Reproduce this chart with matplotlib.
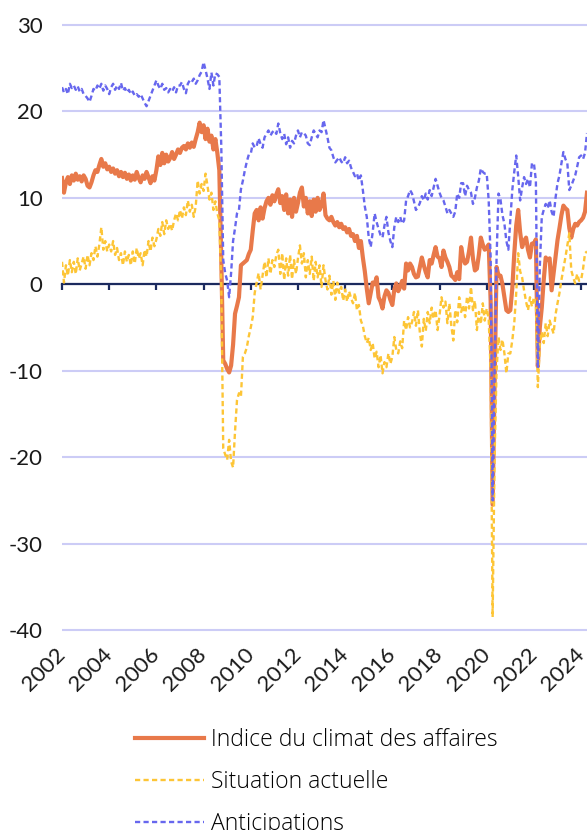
"""Indice du climat des affaires et ses deux composantes, 2002-2024 (mensuel)."""
import matplotlib
matplotlib.use("Agg")
import matplotlib.pyplot as plt  # noqa: E402
from matplotlib.lines import Line2D  # noqa: E402
import numpy as np  # noqa: E402

START_YEAR = 2002          # first observation = January 2002, monthly

ICA = [
    12.3, 10.6, 11.8, 12.4, 11.6, 12.6, 12.0, 12.8, 12.1, 12.5, 11.9, 12.6,   # 2002
    12.2, 11.4, 11.2, 11.8, 12.6, 13.2, 13.0, 13.8, 14.5, 13.6, 14.0, 13.3,   # 2003
    13.6, 13.0, 13.4, 12.8, 13.2, 12.5, 13.0, 12.4, 12.9, 12.2, 12.7, 12.0,   # 2004
    12.6, 12.1, 13.0, 12.3, 11.8, 12.6, 12.2, 13.0, 12.4, 11.7, 12.5, 12.0,   # 2005
    13.2, 14.8, 13.8, 15.2, 14.0, 15.0, 14.2, 14.6, 15.3, 14.5, 15.0, 15.6,   # 2006
    15.2, 15.8, 16.0, 15.6, 16.3, 15.8, 16.4, 15.9, 16.8, 17.6, 18.7, 17.6,   # 2007
    18.4, 16.8, 18.0, 16.5, 17.2, 15.6, 16.8, 15.2, 13.2, 3.0, -8.8, -9.2,    # 2008
    -9.8, -10.2, -9.4, -7.0, -3.4, -2.5, -1.5, 2.2, 2.4, 2.6, 2.8, 3.5,       # 2009
    4.0, 6.2, 8.2, 8.6, 7.4, 8.9, 7.6, 8.8, 9.6, 10.0, 9.2, 10.3,             # 2010
    9.6, 10.4, 11.0, 9.4, 10.2, 8.6, 10.4, 8.2, 9.8, 7.8, 10.0, 8.4,          # 2011
    9.4, 10.6, 11.2, 9.0, 10.0, 8.2, 9.6, 7.9, 9.8, 8.4, 10.0, 8.6,           # 2012
    9.2, 10.5, 8.0, 7.6, 7.4, 7.8, 7.2, 6.8, 7.2, 6.6, 7.0, 6.4,              # 2013
    6.6, 6.0, 6.4, 5.6, 5.8, 5.0, 5.6, 4.2, 5.0, 3.1, 1.5, -0.5,              # 2014
    -2.2, -1.0, 0.2, 0.0, 0.8, -1.5, -2.0, -2.8, -1.4, -0.7, -1.0, -1.8,      # 2015
    -2.4, -0.6, 0.1, -0.8, -0.3, 0.4, -0.5, 2.4, 1.6, 2.4, 2.0, 1.2,          # 2016
    0.8, 0.9, 2.0, 3.1, 2.2, 1.4, 0.8, 2.8, 2.4, 3.4, 4.3, 3.2,               # 2017
    3.0, 2.0, 3.9, 3.1, 2.6, 2.0, 1.0, 0.8, 0.5, 1.4, 0.6, 4.3,               # 2018
    3.0, 2.4, 2.6, 3.8, 5.4, 3.0, 1.6, 1.8, 3.4, 5.4, 4.6, 4.0,               # 2019
    4.2, 4.6, -2.0, -25.5, -12.0, 2.0, 1.0, 1.0, 0.0, -1.5, -3.0, -3.2,       # 2020
    -3.0, -0.5, 3.5, 6.8, 8.6, 6.0, 4.3, 5.0, 5.4, 4.0, 3.1, 4.7,             # 2021
    4.7, 5.2, -9.5, -5.0, -2.7, 0.5, 3.1, 2.8, 3.0, -0.7, 1.2, 3.0,           # 2022
    5.1, 6.5, 8.0, 9.1, 8.8, 8.6, 6.5, 5.4, 6.4, 7.0, 6.8, 7.2,               # 2023
    7.4, 7.7, 8.4, 10.6,                                                     # 2024
]

SITUATION = [
    2.6, 0.2, 2.2, 1.0, 2.8, 1.4, 2.6, 1.2, 3.0, 1.6, 2.4, 3.2,               # 2002
    1.8, 3.4, 2.2, 3.6, 2.8, 4.4, 3.2, 4.6, 6.6, 4.0, 5.0, 3.8,               # 2003
    4.6, 3.8, 5.0, 3.4, 4.2, 2.8, 3.6, 2.2, 3.8, 2.6, 3.4, 2.2,               # 2004
    3.8, 2.4, 4.2, 3.0, 3.6, 2.2, 4.0, 3.2, 5.0, 3.8, 5.4, 4.4,               # 2005
    5.2, 6.4, 5.6, 7.2, 5.8, 7.4, 6.4, 7.0, 6.2, 7.4, 8.2, 7.4,               # 2006
    8.6, 7.6, 8.9, 8.0, 9.7, 8.4, 9.2, 7.8, 9.0, 12.0, 10.5, 11.6,            # 2007
    10.8, 12.8, 11.4, 9.8, 10.6, 8.6, 9.6, 8.2, 7.4, 0.0, -19.0, -19.7,       # 2008
    -20.3, -18.0, -20.5, -21.2, -17.0, -13.4, -12.6, -13.0, -8.4, -8.0, -7.3, -6.0,  # 2009
    -5.0, -3.8, -1.0, 0.2, 1.3, -0.6, 1.0, 2.6, 0.8, 3.0, 1.2, 2.8,           # 2010
    2.0, 3.4, 4.0, 1.2, 3.6, 0.5, 3.0, 1.0, 3.4, 0.6, 2.8, 1.2,               # 2011
    3.0, 4.5, 2.4, 3.6, 0.8, 2.8, 1.2, 3.2, 0.4, 2.6, 0.8, 2.2,               # 2012
    -0.3, 2.2, 0.5, -0.6, 1.0, -1.2, 0.4, -1.8, 0.2, -1.0, -0.3, -1.9,        # 2013
    -0.6, -2.0, -0.8, -1.6, -2.2, -1.0, -3.0, -2.4, -4.2, -4.8, -6.0, -6.8,   # 2014
    -6.2, -7.6, -6.8, -8.6, -7.8, -9.6, -8.2, -10.3, -9.0, -9.6, -8.0, -9.2,  # 2015
    -8.4, -6.1, -7.6, -8.0, -6.6, -7.4, -4.2, -5.3, -3.8, -5.0, -4.4, -3.2,   # 2016
    -4.8, -3.0, -5.6, -7.2, -4.0, -5.4, -3.2, -4.5, -2.7, -4.0, -3.0, -5.3,   # 2017
    -3.6, -1.5, -2.7, -2.0, -4.5, -2.2, -4.8, -6.5, -3.0, -4.4, -1.5, -3.2,   # 2018
    -2.4, -3.8, -1.4, -2.8, -0.3, -3.0, -1.9, -5.3, -3.2, -4.6, -2.2, -4.2,   # 2019
    -2.8, -4.0, -10.0, -38.5, -20.0, -10.0, -6.1, -7.6, -6.4, -8.0, -10.3, -8.0,  # 2020
    -8.0, -6.5, -4.5, -1.0, 3.6, 1.5, 0.8, -0.7, -2.0, -3.0, -1.5, -2.6,      # 2021
    -1.5, -2.2, -11.9, -7.0, -5.5, -6.8, -4.5, -6.0, -4.2, -5.0, -5.7, -3.5,  # 2022
    -2.2, -1.0, 0.5, 1.8, 3.1, 4.5, 5.9, 1.6, 0.8, 0.1, 1.2, 0.4,             # 2023
    0.5, 1.8, 3.6, 3.8,                                                      # 2024
]

ANTICIPATIONS = [
    22.8, 22.2, 22.6, 22.0, 23.2, 22.7, 23.0, 22.5, 22.9, 22.3, 22.6, 22.0,   # 2002
    21.8, 21.5, 21.1, 21.8, 22.6, 22.4, 23.0, 22.6, 23.2, 22.4, 23.0, 22.6,   # 2003
    22.0, 22.8, 23.2, 22.5, 23.0, 22.6, 23.3, 22.4, 22.7, 22.2, 22.5, 22.0,   # 2004
    22.3, 21.8, 22.0, 21.7, 22.0, 21.5, 21.0, 20.6, 21.2, 21.8, 22.4, 23.0,   # 2005
    23.6, 23.0, 22.6, 23.2, 22.5, 22.7, 22.2, 22.6, 22.3, 22.8, 22.2, 23.0,   # 2006
    23.0, 23.4, 22.6, 22.1, 23.2, 23.6, 23.4, 23.8, 23.2, 23.6, 24.2, 24.6,   # 2007
    25.7, 24.8, 23.8, 22.6, 24.5, 23.0, 24.4, 24.3, 24.0, 16.0, 2.8, 1.3,     # 2008
    0.4, -1.5, 1.3, 5.0, 6.5, 8.2, 8.6, 11.0, 12.0, 13.2, 14.2, 15.0,         # 2009
    15.1, 16.3, 15.8, 16.0, 16.9, 16.2, 15.8, 17.0, 17.4, 17.8, 17.2, 17.6,   # 2010
    17.8, 17.4, 18.6, 17.5, 16.8, 17.4, 16.2, 17.0, 15.8, 16.6, 16.3, 17.2,   # 2011
    17.8, 17.0, 17.6, 17.5, 17.2, 16.3, 16.1, 17.0, 17.8, 17.4, 17.0, 17.8,   # 2012
    17.6, 19.0, 18.0, 17.0, 15.8, 15.5, 14.7, 14.1, 14.4, 14.7, 14.2, 14.0,   # 2013
    14.7, 14.0, 14.3, 13.5, 13.0, 12.5, 12.8, 12.0, 12.6, 10.9, 9.0, 7.8,     # 2014
    5.4, 4.3, 6.0, 8.2, 7.2, 6.4, 5.7, 5.4, 6.8, 7.8, 6.0, 5.0,               # 2015
    4.3, 6.6, 7.8, 7.2, 7.8, 7.0, 7.4, 9.7, 10.2, 10.9, 10.5, 9.6,            # 2016
    8.6, 8.9, 9.4, 10.2, 9.7, 10.5, 9.8, 10.9, 10.2, 11.2, 12.2, 11.4,        # 2017
    10.6, 10.0, 9.7, 9.0, 8.2, 8.6, 8.2, 7.8, 8.4, 10.5, 10.0, 11.7,          # 2018
    11.7, 10.2, 11.4, 10.9, 10.6, 9.3, 10.0, 11.2, 12.0, 13.4, 13.0, 12.8,    # 2019
    12.8, 9.7, 3.0, -25.0, -10.0, 3.0, 10.5, 9.8, 8.0, 7.0, 5.0, 4.0,         # 2020
    7.5, 10.9, 13.0, 14.9, 12.5, 9.7, 11.2, 12.4, 11.6, 12.2, 11.2, 14.0,     # 2021
    14.0, 12.0, -9.7, 2.0, 7.8, 8.6, 9.3, 8.8, 9.7, 8.4, 7.8, 10.0,           # 2022
    11.7, 12.6, 14.0, 15.3, 14.5, 14.0, 10.9, 11.4, 12.0, 12.6, 13.6, 14.7,   # 2023
    14.9, 14.5, 15.2, 17.5,                                                  # 2024
]

LABELS = ["Indice du climat des affaires", "Situation actuelle", "Anticipations"]
YEAR_TICKS = list(range(2002, 2025, 2))
Y_TICKS = list(range(-40, 31, 10))

ORANGE = "#E8794A"
YELLOW = "#FDC536"
BLUE = "#6767EE"
NAVY = "#1B2A5E"
GRID = "#CCCCF6"
TICK_FONT = {"family": "Lato", "size": 16, "color": "#1a1a1a"}

dates = START_YEAR + np.arange(len(ICA)) / 12

W, H = 587, 830
fig = plt.figure(figsize=(W / 100, H / 100), dpi=100)
ax = fig.add_axes([62 / W, 1 - 632.6 / H, 525 / W, 610.2 / H])

ax.plot(dates, ICA, color=ORANGE, lw=3.0, solid_joinstyle="round", zorder=3)
ax.plot(dates, SITUATION, color=YELLOW, lw=1.7, dashes=(2.2, 1.4), zorder=4)
ax.plot(dates, ANTICIPATIONS, color=BLUE, lw=1.7, dashes=(2.2, 1.4), zorder=5)

ax.set_xlim(2002, 2024.25)
ax.set_ylim(-40.3, 30.3)

# y grid + labels
ax.set_yticks(Y_TICKS)
ax.set_yticklabels([str(v) for v in Y_TICKS], fontdict=TICK_FONT)
ax.yaxis.grid(True, color=GRID, lw=1.5)
ax.set_axisbelow(True)
ax.tick_params(axis="y", length=0, pad=14)

for s in ("left", "right", "top"):
    ax.spines[s].set_visible(False)

# zero line carries the year ticks
ax.spines["bottom"].set_position(("data", 0))
ax.spines["bottom"].set_color(NAVY)
ax.spines["bottom"].set_linewidth(1.6)
ax.spines["bottom"].set_zorder(2)
ax.set_xticks(YEAR_TICKS)
ax.tick_params(axis="x", direction="out", length=4.5, width=1.6, color=NAVY,
               labelbottom=False)

# year labels sit under the -40 line
sec = ax.secondary_xaxis("bottom")
sec.set_xticks(YEAR_TICKS)
sec.set_xticklabels([str(y) for y in YEAR_TICKS], fontdict=TICK_FONT,
                    rotation=45, ha="right", va="center", rotation_mode="anchor")
sec.tick_params(length=0, pad=13.5)
sec.spines["bottom"].set_visible(False)

handles = [
    Line2D([], [], color=ORANGE, lw=3.0),
    Line2D([], [], color=YELLOW, lw=1.7, dashes=(2.2, 1.4)),
    Line2D([], [], color=BLUE, lw=1.7, dashes=(2.2, 1.4)),
]
fig.legend(handles, LABELS, loc="upper left", bbox_to_anchor=(135 / W, 1 - 728 / H),
           frameon=False, prop={"family": "Open Sans", "weight": "light", "size": 16.5},
           handlelength=3.0, handletextpad=0.3, labelspacing=0.79,
           borderpad=0, borderaxespad=0)

fig.savefig("out.png", dpi=100)
plt.close(fig)
